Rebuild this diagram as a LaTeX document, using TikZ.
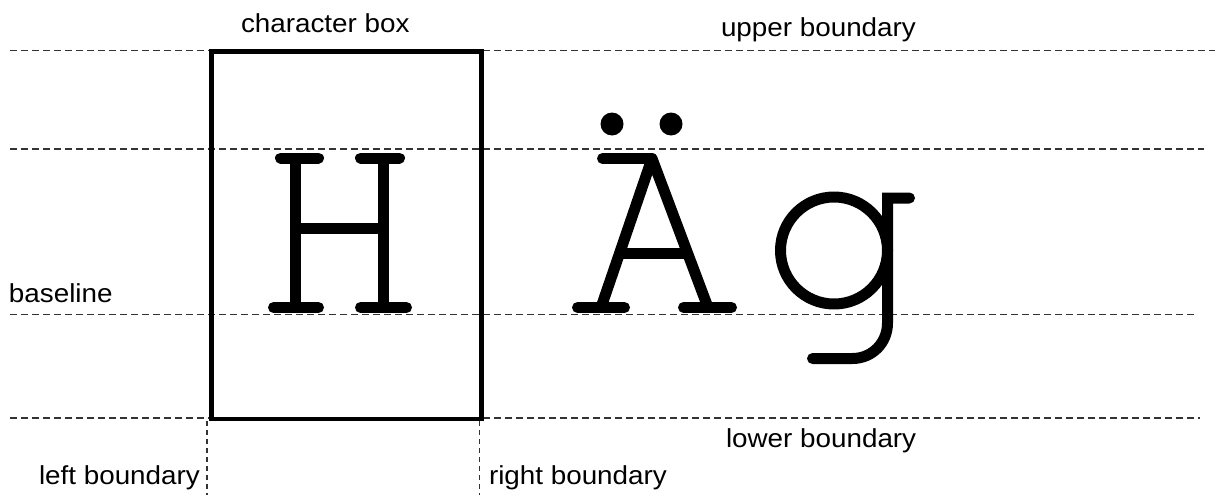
\documentclass[tikz,border=0pt]{standalone}
\usepackage{graphicx}
\usepackage{fontspec}
\setmainfont{Liberation Sans}
\newcommand\widelabel[1]{\scalebox{1.07}[1]{#1}}
\begin{document}
\begin{tikzpicture}[x=1pt,y=-1pt,
  guide/.style={draw=black!80,line width=1.5pt,dash pattern=on 6.5pt off 4.5pt},
  vguide/.style={draw=black!80,line width=1.3pt,dash pattern=on 5pt off 4pt},
  charbox/.style={draw=black,line width=4.5pt,miter limit=10},
  glyph/.style={draw=black,line width=11pt,line cap=round,line join=round},
  lbl/.style={inner sep=0pt,outer sep=0pt,anchor=base west,font=\fontsize{26}{30}\selectfont}]
\useasboundingbox (0,0) rectangle (1215,495);
% guide lines
\coordinate (u1) at (10,50.5);  \coordinate (u2) at (1215,50.5);
\coordinate (m1) at (10,149);   \coordinate (m2) at (1204,149);
\coordinate (b1) at (10,314.5); \coordinate (b2) at (1194,314.5);
\coordinate (l1) at (10,418);   \coordinate (l2) at (1200,418);
\draw[guide] (u1) -- (u2);
\draw[guide] (m1) -- (m2);
\draw[guide] (b1) -- (b2);
\draw[guide] (l1) -- (l2);
% vertical boundaries
\coordinate (lb1) at (207,421); \coordinate (lb2) at (207,495);
\coordinate (rb1) at (479.5,421); \coordinate (rb2) at (479.5,495);
\draw[vguide] (lb1) -- (lb2);
\draw[vguide] (rb1) -- (rb2);
% character box
\coordinate (bx1) at (211.5,51.5); \coordinate (bx2) at (481.5,419);
\draw[charbox] (bx1) rectangle (bx2);
% H
\draw[glyph,line cap=butt] (295.5,158) -- (295.5,307.5);
\draw[glyph,line cap=butt] (383.5,158) -- (383.5,307.5);
\draw[glyph,line cap=butt] (295.5,228.5) -- (383.5,228.5);
\draw[glyph] (280.5,158) -- (318.5,158);
\draw[glyph] (360.5,158) -- (399.5,158);
\draw[glyph] (273.5,307.5) -- (318.5,307.5);
\draw[glyph] (360.5,307.5) -- (406.5,307.5);
% A umlaut
\fill (612,124) circle (11.5);
\fill (671,124) circle (11.5);
\draw[glyph,line cap=butt] (601,307.5) -- (652,158.5) -- (708,307.5);
\draw[glyph] (602.5,158.5) -- (652,158.5);
\draw[glyph,line cap=butt] (619,253.5) -- (690,253.5);
\draw[glyph] (577.5,307.5) -- (624.5,307.5);
\draw[glyph] (683.5,307.5) -- (731.5,307.5);
% g
\draw[glyph] (834,250.5) circle (53.5);
\draw[glyph,line join=miter] (909.5,198) -- (887.5,198) -- (887.5,323)
  .. controls (887.5,343) and (872,358.5) .. (852.5,358.5) -- (812.5,358.5);
% labels
\node[lbl] (lcb) at (241,33) {\widelabel{character box}};
\node[lbl] (lub) at (721,37) {\widelabel{upper boundary}};
\node[lbl] (lbs) at (9,302) {\widelabel{baseline}};
\node[lbl] (llw) at (726,447) {\widelabel{lower boundary}};
\node[lbl] (llf) at (39,484) {\widelabel{left boundary}};
\node[lbl] (lrt) at (489,484) {\widelabel{right boundary}};
\end{tikzpicture}
\end{document}
